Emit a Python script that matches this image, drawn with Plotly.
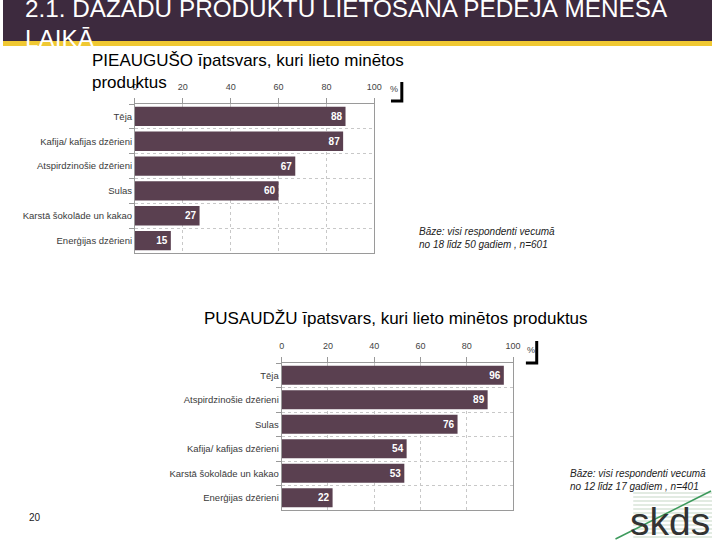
import plotly.graph_objects as go

# ---- data ----
adult_categories = ["Tēja", "Kafija/ kafijas dzērieni", "Atspirdzinošie dzērieni", "Sulas",
                    "Karstā šokolāde un kakao", "Enerģijas dzērieni"]
adult_values = [88, 87, 67, 60, 27, 15]

teen_categories = ["Tēja", "Atspirdzinošie dzērieni", "Sulas", "Kafija/ kafijas dzērieni",
                   "Karstā šokolāde un kakao", "Enerģijas dzērieni"]
teen_values = [96, 89, 76, 54, 53, 22]

x_ticks = [0, 20, 40, 60, 80, 100]

title_line1 = "2.1. DAŽĀDU PRODUKTU LIETOŠANA PĒDĒJĀ MĒNESĀ"
title_line2 = "LAIKĀ"
adult_title = "PIEAUGUŠO īpatsvars, kuri lieto minētos<br>produktus"
teen_title = "PUSAUDŽU īpatsvars, kuri lieto minētos produktus"
adult_base = "Bāze: visi respondenti vecumā<br>no 18 līdz 50 gadiem , n=601"
teen_base = "Bāze: visi respondenti vecumā<br>no 12 līdz 17 gadiem , n=401"

W, H = 720, 540
BAR = "#5a4050"
FONT = "Liberation Sans, Arial, sans-serif"

def px(x):
    return x / W

def py(y):
    return 1 - y / H

fig = go.Figure()
for cats, vals, xa, ya in [(adult_categories, adult_values, "x", "y"),
                           (teen_categories, teen_values, "x2", "y2")]:
    fig.add_trace(go.Bar(
        x=vals, y=cats, orientation="h", xaxis=xa, yaxis=ya,
        marker=dict(color=BAR, line=dict(width=0)),
        text=["<b>%d</b>" % v for v in vals], textposition="inside", insidetextanchor="end",
        textfont=dict(color="white", size=10, family=FONT), textangle=0,
        cliponaxis=False, showlegend=False, hoverinfo="skip"))

xaxis_common = dict(range=[0, 100], side="top", tickvals=x_ticks, ticks="outside", ticklen=5,
                    tickcolor="#999", showgrid=True, gridcolor="#c8c8c8", griddash="dot",
                    showline=True, linecolor="#9a9a9a", mirror=True, zeroline=False,
                    ticklabelstandoff=4,
                    tickfont=dict(size=9, color="#444", family=FONT), fixedrange=True)
yaxis_common = dict(autorange="reversed", type="category", tickson="boundaries", ticks="outside",
                    ticklen=5, tickcolor="#999", showgrid=True, gridcolor="#c8c8c8", griddash="dot",
                    showline=True, linecolor="#9a9a9a", mirror=True,
                    tickfont=dict(size=9.5, color="#3a3a3a", family=FONT), fixedrange=True)

fig.update_layout(
    width=W, height=H, margin=dict(l=0, r=0, t=0, b=0),
    paper_bgcolor="white", plot_bgcolor="white", bargap=0.22,
    xaxis=dict(domain=[px(134), px(377)], anchor="y", **xaxis_common),
    yaxis=dict(domain=[py(253), py(104)], anchor="x", **yaxis_common),
    xaxis2=dict(domain=[px(283), px(518)], anchor="y2", **xaxis_common),
    yaxis2=dict(domain=[py(510), py(363)], anchor="x2", **yaxis_common),
)

shapes = [
    dict(type="rect", xref="paper", yref="paper", x0=0, x1=1, y0=py(41), y1=1,
         fillcolor="#3d2a3e", line=dict(width=0), layer="below"),
    dict(type="rect", xref="paper", yref="paper", x0=0, x1=1, y0=py(46), y1=py(41),
         fillcolor="#f0c832", line=dict(width=0), layer="below"),
    # bracket marks
    dict(type="path", xref="paper", yref="paper",
         path=f"M {px(405)} {py(82)} L {px(405)} {py(101)} L {px(394)} {py(101)}",
         line=dict(color="black", width=3)),
    dict(type="path", xref="paper", yref="paper",
         path=f"M {px(542)} {py(341)} L {px(542)} {py(363)} L {px(531)} {py(363)}",
         line=dict(color="black", width=3)),
]
# logo stripes
for yy in range(493, 541, 4):
    shapes.append(dict(type="line", xref="paper", yref="paper", x0=px(640), x1=px(720),
                       y0=py(yy), y1=py(yy), line=dict(color="#d9e4d9", width=1.5), layer="below"))
shapes.append(dict(type="line", xref="paper", yref="paper", x0=px(622), y0=py(539), x1=px(719), y1=py(491),
                   line=dict(color="#3d9a5c", width=1.5)))
fig.update_layout(shapes=shapes)

ann = [
    dict(text=title_line1, x=px(20), y=py(8), xanchor="left", yanchor="middle",
         font=dict(size=24.3, color="white", family=FONT)),
    dict(text=title_line2, x=px(20), y=py(38), xanchor="left", yanchor="middle",
         font=dict(size=24.3, color="white", family=FONT)),
    dict(text=adult_title, x=px(88), y=py(49), xanchor="left", yanchor="top", align="left",
         font=dict(size=17, color="black", family=FONT)),
    dict(text=teen_title, x=px(202), y=py(318), xanchor="left", yanchor="middle",
         font=dict(size=17, color="black", family=FONT)),
    dict(text="%", x=px(397), y=py(89), xanchor="center", yanchor="middle",
         font=dict(size=9, color="#444", family=FONT)),
    dict(text="%", x=px(536), y=py(350), xanchor="center", yanchor="middle",
         font=dict(size=9, color="#444", family=FONT)),
    dict(text="<i>" + adult_base + "</i>", x=px(420), y=py(238), xanchor="left", yanchor="middle",
         align="left", font=dict(size=10, color="#222", family=FONT)),
    dict(text="<i>" + teen_base + "</i>", x=px(574), y=py(480), xanchor="left", yanchor="middle",
         align="left", font=dict(size=10, color="#222", family=FONT)),
    dict(text="20", x=px(32), y=py(517), xanchor="center", yanchor="middle",
         font=dict(size=10, color="#222", family=FONT)),
    dict(text="skds", x=px(677), y=py(521), xanchor="center", yanchor="middle",
         font=dict(size=39, color="#333", family=FONT)),
]
for a in ann:
    a.update(xref="paper", yref="paper", showarrow=False)
fig.update_layout(annotations=ann)

fig.write_html("out.html", config={"displayModeBar": False},
               post_script="document.body.style.margin='0';document.body.style.padding='0';")
